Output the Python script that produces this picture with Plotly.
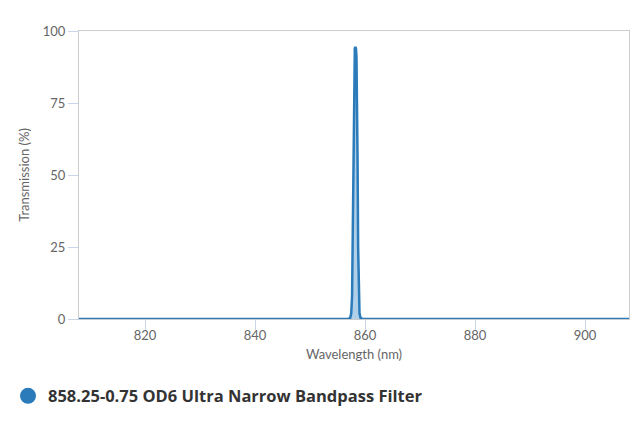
import plotly.graph_objects as go

# transmission curve
wavelength = [808, 856.9, 857.3, 857.5, 857.65, 857.75, 857.85, 857.95, 858.05,
              858.15, 858.25, 858.35, 858.45, 858.55, 858.65, 858.75, 858.85,
              859.0, 859.2, 859.6, 908]
transmission = [0, 0, 0.3, 2, 8, 25, 55, 80, 91, 94, 94.5, 94, 91, 80, 55, 25,
                8, 2, 0.3, 0, 0]
series_name = '858.25-0.75 OD6 Ultra Narrow Bandpass Filter'
x_ticks = [820, 840, 860, 880, 900]
y_ticks = [0, 25, 50, 75, 100]

line_color = '#2b7bba'

fig = go.Figure()
fig.add_trace(go.Scatter(
    x=wavelength, y=transmission, mode='lines',
    line=dict(color=line_color, width=2.5),
    fill='tozeroy', fillcolor='rgba(124,177,220,0.6)',
    showlegend=False, hoverinfo='x+y'))
# legend entry with round marker
fig.add_trace(go.Scatter(
    x=[None], y=[None], mode='markers', name=series_name,
    marker=dict(color=line_color, size=16)))

axis_font = dict(family='Lato', size=13, color='#666666')
# margins allow for the 8px body margin of the html page
fig.update_layout(
    width=640, height=427,
    margin=dict(l=71, r=19, t=23, b=116, autoexpand=False),
    plot_bgcolor='white', paper_bgcolor='white',
    showlegend=True,
    legend=dict(orientation='h', xref='container', yref='container',
                x=0, xanchor='left', y=0.091, yanchor='middle',
                itemsizing='trace',
                font=dict(family='Open Sans', size=16.5, color='#333333',
                          weight='bold')),
    xaxis=dict(range=[808, 908], tickvals=x_ticks, showgrid=False,
               zeroline=False, showline=True, linecolor='#cccccc',
               mirror=True, ticks='outside', ticklen=10,
               tickcolor='#ccd6eb', tickfont=axis_font,
               ticklabelstandoff=-6, automargin=False,
               title=dict(text='Wavelength (nm)', font=axis_font,
                          standoff=8)),
    yaxis=dict(range=[0, 100], tickvals=y_ticks, showgrid=False,
               zeroline=False, showline=True, linecolor='#cccccc',
               mirror=True, ticks='outside', ticklen=10,
               tickcolor='#ccd6eb', tickfont=axis_font, automargin=False,
               title=dict(text='Transmission (%)', font=axis_font,
                          standoff=10)),
)

fig.write_html('out.html')
